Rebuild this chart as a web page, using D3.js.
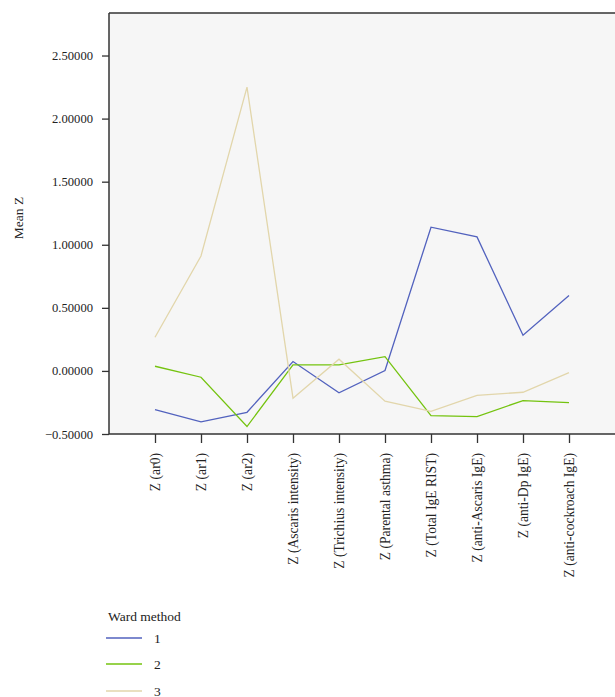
<!DOCTYPE html>
<html><head><meta charset="utf-8">
<script src="https://cdn.jsdelivr.net/npm/d3@7"></script>
<style>body{margin:0;background:#fff}svg{display:block}text{font-family:"Liberation Serif",serif;fill:#222}</style>
</head><body>
<svg id="c" width="615" height="697"></svg>
<script>
const categories = ["Z (ar0)","Z (ar1)","Z (ar2)","Z (Ascaris intensity)","Z (Trichius intensity)","Z (Parental asthma)","Z (Total IgE RIST)","Z (anti-Ascaris IgE)","Z (anti-Dp IgE)","Z (anti-cockroach IgE)"];
const series1 = [-0.306,-0.404,-0.328,0.074,-0.174,0.003,1.139,1.062,0.283,0.597];
const series2 = [0.037,-0.050,-0.441,0.048,0.048,0.113,-0.354,-0.362,-0.235,-0.251];
const series3 = [0.267,0.911,2.250,-0.216,0.093,-0.240,-0.320,-0.193,-0.169,-0.013];
const seriesNames = ["1","2","3"];
const yTicks = [-0.5,0,0.5,1,1.5,2,2.5];
const colors = ["#5262be","#74c30f","#e2d6ab"];
const FF='"Liberation Serif",serif';

const svg = d3.select("#c");
const L=109, R=615, T=13, B=434;
const x = d3.scalePoint().domain(categories).range([L,R]).padding(1);
const y = d3.scaleLinear().domain([-0.5,2.837]).range([B,T]);

svg.append("rect").attr("x",L).attr("y",T).attr("width",R-L).attr("height",B-T).attr("fill","#f6f6f6");

const data=[series1,series2,series3];
const line=d3.line().x((d,i)=>x(categories[i])).y(d=>y(d));
data.forEach((s,k)=>{
  svg.append("path").datum(s).attr("d",line).attr("fill","none").attr("stroke",colors[k]).attr("stroke-width",1.3);
});

svg.append("line").attr("x1",L).attr("x2",R).attr("y1",T).attr("y2",T).attr("stroke","#333").attr("stroke-width",1.5);

const ya = svg.append("g").attr("transform",`translate(${L},0)`)
  .call(d3.axisLeft(y).tickValues(yTicks).tickFormat(d=>(d<0?"\u2212":"")+Math.abs(d).toFixed(5)).tickSize(7).tickSizeOuter(0));
ya.select(".domain").attr("stroke","#333").attr("stroke-width",1.5).attr("d",`M0,${T}V${B}`);
ya.selectAll(".tick line").attr("stroke","#333").attr("stroke-width",1.3);
ya.selectAll(".tick text").style("font-size","12.6px").attr("x",-16).style("font-family",FF).attr("fill","#222");

const xa = svg.append("g").attr("transform",`translate(0,${B})`)
  .call(d3.axisBottom(x).tickSize(9).tickSizeOuter(0));
xa.select(".domain").attr("stroke","#333").attr("stroke-width",1.5).attr("d",`M${L},0H${R}`);
xa.selectAll(".tick line").attr("stroke","#333").attr("stroke-width",1.3);
xa.selectAll(".tick text").style("font-size","13.6px").style("font-family",FF).attr("fill","#222")
  .attr("transform","rotate(-90)").attr("text-anchor","end").attr("x",-19).attr("y",0).attr("dy","0.35em");

svg.append("text").attr("transform","translate(23,218) rotate(-90)").attr("text-anchor","middle").style("font-size","13.5px").text("Mean Z");

svg.append("text").attr("x",108).attr("y",621).style("font-size","13.5px").text("Ward method");
const ly=[638,664,691];
seriesNames.forEach((n,k)=>{
  svg.append("line").attr("x1",106).attr("x2",142).attr("y1",ly[k]).attr("y2",ly[k]).attr("stroke",colors[k]).attr("stroke-width",1.3);
  svg.append("text").attr("x",154).attr("y",ly[k]+4.5).style("font-size","13.5px").text(n);
});
</script>
</body></html>
